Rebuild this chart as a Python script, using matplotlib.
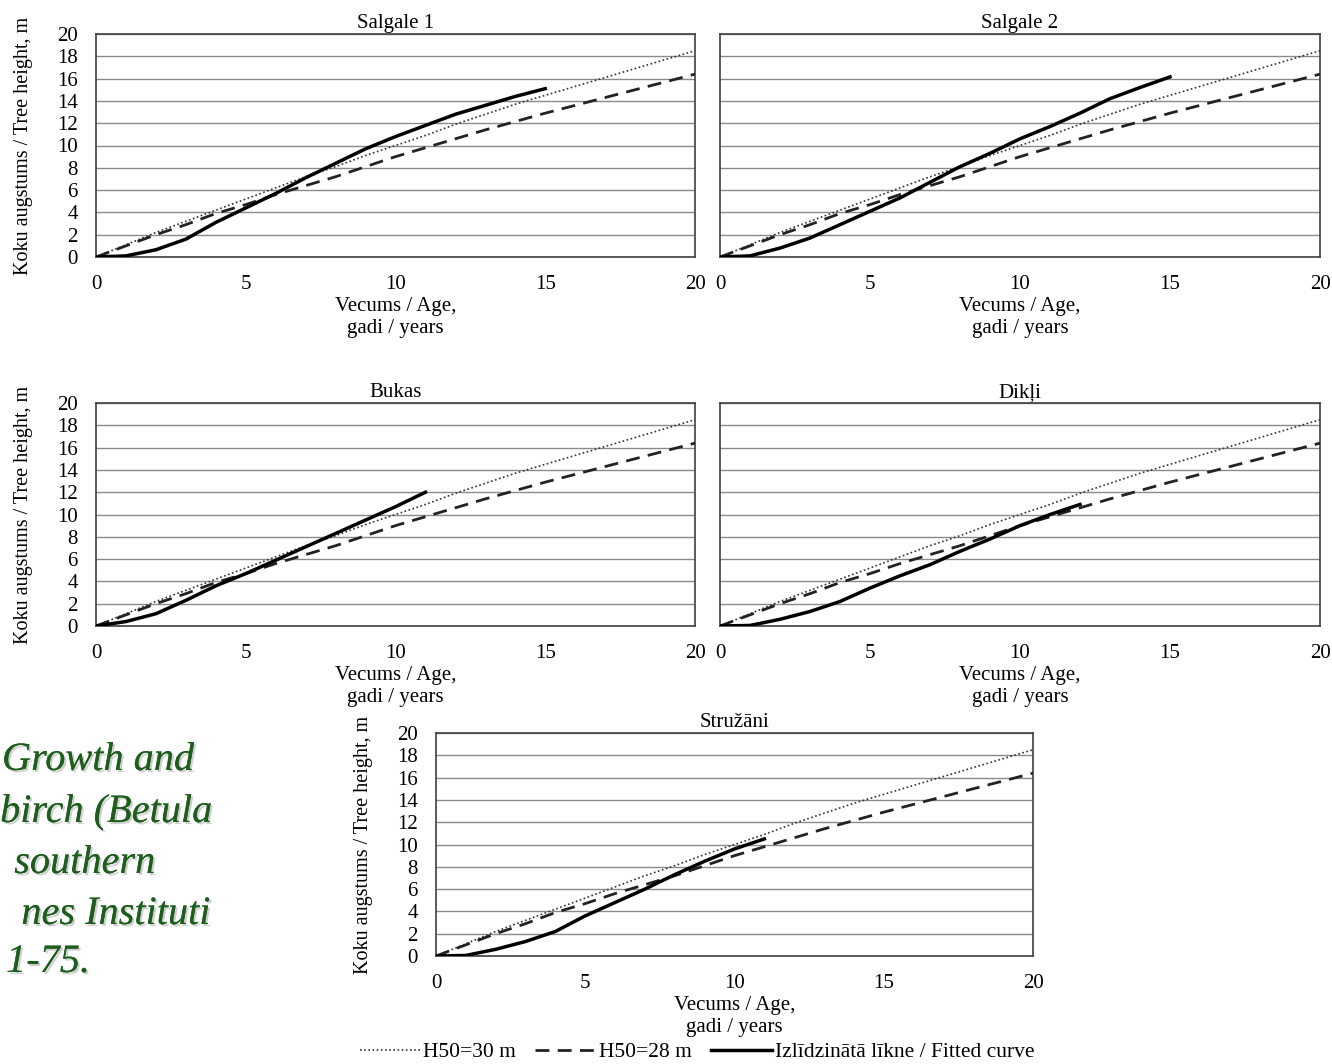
import matplotlib.pyplot as plt
import matplotlib.patheffects as pe
from matplotlib.lines import Line2D

plt.rcParams['font.family'] = ['Liberation Serif', 'DejaVu Serif']

# reference curves (same on every panel)
age = list(range(21))
h50_30 = [0, 1.1, 2.2, 3.2, 4.2, 5.2, 6.2, 7.2, 8.1, 9.1, 10.0, 10.9, 11.9,
          12.8, 13.7, 14.5, 15.3, 16.1, 16.9, 17.7, 18.5]
h50_28 = [0, 1.0, 2.0, 2.9, 3.9, 4.7, 5.6, 6.4, 7.2, 8.1, 9.0, 9.8, 10.6,
          11.4, 12.15, 12.9, 13.6, 14.3, 15.0, 15.7, 16.4]

# fitted curves per site
sites = ['Salgale 1', 'Salgale 2', 'Bukas', 'Dikļi', 'Stružāni']
salgale1 = [0, 0.1, 0.65, 1.6, 3.1, 4.4, 5.7, 7.1, 8.4, 9.7, 10.8, 11.8,
            12.8, 13.6, 14.4, 15.1]
salgale2 = [0, 0.1, 0.8, 1.7, 2.9, 4.1, 5.3, 6.7, 8.1, 9.3, 10.6, 11.7,
            12.9, 14.2, 15.2, 16.15]
bukas = [0, 0.4, 1.1, 2.3, 3.6, 4.7, 5.9, 7.1, 8.3, 9.5, 10.7, 12.0]
dikli = [0, 0.05, 0.6, 1.3, 2.2, 3.4, 4.5, 5.5, 6.7, 7.8, 9.0, 10.0, 10.9]
struzani = [0, 0.05, 0.6, 1.3, 2.2, 3.6, 4.8, 6.0, 7.3, 8.5, 9.6, 10.5]
fitted = [salgale1, salgale2, bukas, dikli, struzani]

xticks = [0, 5, 10, 15, 20]
yticks = list(range(0, 21, 2))

legend_labels = ['H50=30 m', 'H50=28 m', 'Izlīdzinātā līkne / Fitted curve']
side_text = ['Growth and', 'birch (Betula', 'southern', 'nes Instituti', '1-75.']

W, H = 1332, 1064
fig = plt.figure(figsize=(W / 100, H / 100), dpi=100)

# axes boxes in pixels: left, top, right, bottom
boxes = [(96, 34, 695, 257), (720, 34, 1320, 257),
         (96, 403, 695, 626), (720, 403, 1320, 626),
         (436, 733, 1033, 956)]
show_y = [True, False, True, False, True]

dot_style = dict(color='#333333', lw=1.2, linestyle=(0, (1, 1.5)))
dash_style = dict(color='#222222', lw=2.0, linestyle=(0, (5, 3)))
fit_style = dict(color='black', lw=2.5, linestyle='-')

for name, fit, (l, t, r, b), sy in zip(sites, fitted, boxes, show_y):
    ax = fig.add_axes([l / W, 1 - b / H, (r - l) / W, (b - t) / H])
    for y in yticks:
        ax.axhline(y, color='#8a8a8a', lw=1.0, zorder=1)
    ax.plot(age, h50_30, zorder=3, **dot_style)
    ax.plot(age, h50_28, zorder=3, **dash_style)
    ax.plot(range(len(fit)), fit, zorder=4, **fit_style)
    ax.set_xlim(0, 20)
    ax.set_ylim(0, 20)
    ax.set_xticks(xticks)
    ax.set_yticks(yticks)
    ax.tick_params(length=0, labelsize=15, pad=13)
    if sy:
        ax.set_ylabel('Koku augstums / Tree height, m', fontsize=14.5, labelpad=17)
    else:
        ax.set_yticklabels([])
    ax.set_xlabel('Vecums / Age,\ngadi / years', fontsize=15, labelpad=2,
                  linespacing=1.2)
    ax.set_title(name, fontsize=15, pad=4)
    for s in ax.spines.values():
        s.set_color('#404040')
        s.set_linewidth(1.2)

handles = [Line2D([], [], **dot_style), Line2D([], [], **dash_style),
           Line2D([], [], **fit_style)]
fig.legend(handles, legend_labels, loc='center', bbox_to_anchor=(697 / W, 1 - 1052 / H),
           ncol=3, frameon=False, fontsize=15.5, handlelength=2.8,
           handletextpad=0.15, columnspacing=0.9, borderpad=0.1)

# green caption on the left
right_ends = [194, 212, 155, 210, 90]
baselines = [770, 822, 873, 924, 972]
shadow = [pe.withSimplePatchShadow(offset=(1.5, -1.5), shadow_rgbFace='#777777', alpha=0.35),
          pe.Normal()]
for txt, xr, yb in zip(side_text, right_ends, baselines):
    fig.text(xr / W, 1 - yb / H, txt, ha='right', va='baseline', fontsize=29,
             style='italic', color='#1d5e1d', path_effects=shadow)

fig.savefig('out.png', dpi=100)
